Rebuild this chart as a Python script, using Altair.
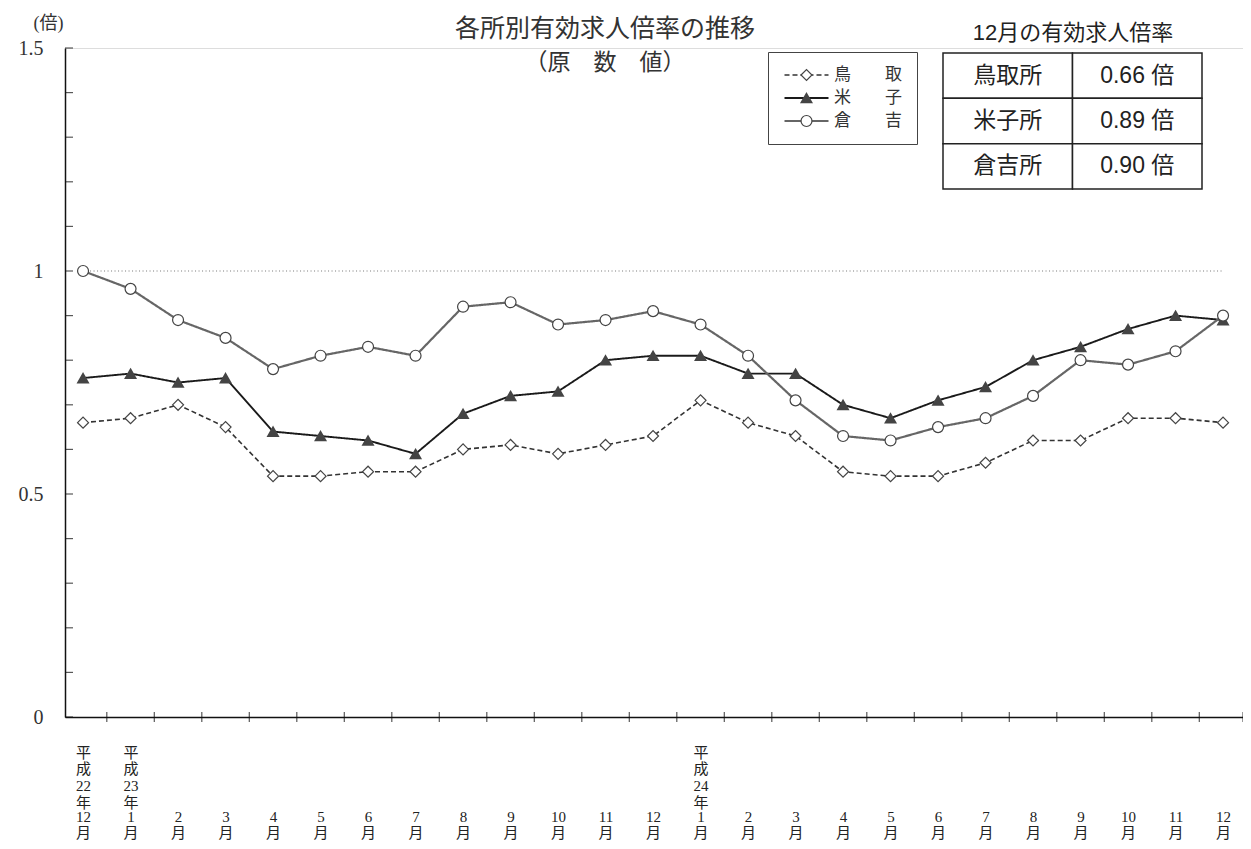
import json
import altair as alt
import pandas as pd

# ---------------- data ----------------
month_labels = ["12|月", "1|月", "2|月", "3|月", "4|月", "5|月", "6|月", "7|月", "8|月",
                "9|月", "10|月", "11|月", "12|月", "1|月", "2|月", "3|月", "4|月", "5|月",
                "6|月", "7|月", "8|月", "9|月", "10|月", "11|月", "12|月"]
era_labels = ["平|成|22|年", "平|成|23|年", "", "", "", "", "", "", "", "", "", "", "",
              "平|成|24|年", "", "", "", "", "", "", "", "", "", "", ""]
series_names = ["鳥取", "米子", "倉吉"]
tottori = [0.66, 0.67, 0.70, 0.65, 0.54, 0.54, 0.55, 0.55, 0.60, 0.61, 0.59, 0.61, 0.63,
           0.71, 0.66, 0.63, 0.55, 0.54, 0.54, 0.57, 0.62, 0.62, 0.67, 0.67, 0.66]
yonago = [0.76, 0.77, 0.75, 0.76, 0.64, 0.63, 0.62, 0.59, 0.68, 0.72, 0.73, 0.80, 0.81,
          0.81, 0.77, 0.77, 0.70, 0.67, 0.71, 0.74, 0.80, 0.83, 0.87, 0.90, 0.89]
kurayoshi = [1.00, 0.96, 0.89, 0.85, 0.78, 0.81, 0.83, 0.81, 0.92, 0.93, 0.88, 0.89, 0.91,
             0.88, 0.81, 0.71, 0.63, 0.62, 0.65, 0.67, 0.72, 0.80, 0.79, 0.82, 0.90]
table_stations = ["鳥取所", "米子所", "倉吉所"]
y_label_values = [0, 0.5, 1, 1.5]
y_minor_ticks = [0.0, 0.1, 0.2, 0.3, 0.4, 0.5, 0.6, 0.7, 0.8, 0.9, 1.0, 1.1, 1.2, 1.3, 1.4, 1.5]
reference_level = 1.0

# ---------------- layout / style ----------------
W, H = 1178, 669
XMIN, XMAX = -0.38, 24.42
SERIF = "Liberation Serif, Noto Sans CJK JP"
SANS = "Liberation Sans, Noto Sans CJK JP"
CJK = "Noto Sans CJK JP"
INK = "#222"

n = len(month_labels)
series_values = [tottori, yonago, kurayoshi]
rows = []
for name, vals in zip(series_names, series_values):
    for i, v in enumerate(vals):
        rows.append({"i": i, "value": name, "rate": v})
df = pd.DataFrame(rows)

month_expr = "split(" + json.dumps(month_labels, ensure_ascii=False) + "[datum.value], '|')"
era_expr = "split(" + json.dumps(era_labels, ensure_ascii=False) + "[datum.value], '|')"
era_positions = [i for i, e in enumerate(era_labels) if e]

# marker shape for 米子: a triangle drawn solid (outline + dense horizontal strokes)
tri = "M0,-0.866L1,0.866L-1,0.866Z"
yy = -0.70
while yy < 0.87:
    hw = (yy + 0.866) / 1.732
    tri += f"M{-hw:.3f},{yy:.3f}L{hw:.3f},{yy:.3f}"
    yy += 0.16
solid_triangle = tri

x_scale = alt.Scale(domain=[XMIN, XMAX], nice=False, zero=False)
y_scale = alt.Scale(domain=[0, 1.5], nice=False)

x_axis = alt.Axis(orient="bottom", values=list(range(n)), labelExpr=month_expr, ticks=False,
                  grid=False, domainColor="#111", domainWidth=1.5, labelBaseline="top",
                  labelPadding=92, labelLineHeight=16, labelFont=SERIF, labelFontSize=15,
                  labelColor=INK, labelOverlap=False, labelFlush=False, labelBound=False)
era_axis = alt.Axis(orient="bottom", values=era_positions, labelExpr=era_expr, ticks=False,
                    grid=False, domain=False, labelBaseline="top",
                    labelPadding=28, labelLineHeight=16.8, labelFont=SERIF, labelFontSize=15,
                    labelColor=INK, labelOverlap=False, labelFlush=False, labelBound=False)
y_axis = alt.Axis(values=y_label_values, labelExpr="'' + datum.value", ticks=False, grid=False,
                  domainColor="#111", domainWidth=1.5, labelFont=SERIF, labelFontSize=20,
                  labelPadding=22, labelColor="#333", labelFlush=False, labelOverlap=False,
                  labelBound=False,
                  title="(倍)", titleAngle=0, titleX=-17, titleY=-20, titleAlign="center",
                  titleBaseline="alphabetic", titleFont=SERIF, titleFontSize=18,
                  titleFontWeight="normal", titleColor="#333")


def X(field, axis=x_axis):
    return alt.X(f"{field}:Q", scale=x_scale, axis=axis, title=None)


def Y(field):
    return alt.Y(f"{field}:Q", scale=y_scale, axis=y_axis, title=None)


legend_label_expr = "substring(datum.label, 0, 1) + '　　' + substring(datum.label, 1)"
common_legend = dict(title=None, orient="none", legendX=703, legendY=4, direction="vertical",
                     padding=15, clipHeight=16, rowPadding=6, labelFont=SERIF,
                     labelFontSize=17, labelColor="#333")
line_legend = alt.Legend(strokeColor="#444", symbolType="stroke", symbolSize=1936,
                         labelOffset=4, labelExpr=legend_label_expr, **common_legend)
pt_legend = alt.Legend(symbolSize=120, symbolOffset=15, labelExpr="''",
                       symbolStrokeWidth=1.2, **common_legend)

ref_rule = alt.Chart(pd.DataFrame({"x": [0], "x2": [n - 1], "y": [reference_level]})).mark_rule(
    strokeDash=[1, 2.5], color="#777", strokeWidth=1
).encode(x=X("x"), x2="x2:Q", y=Y("y"))

lines = alt.Chart(df).mark_line().encode(
    x=X("i"), y=Y("rate"),
    color=alt.Color("value:N", scale=alt.Scale(domain=series_names, range=["#333", "#1a1a1a", "#666"]),
                    legend=line_legend),
    strokeDash=alt.StrokeDash("value:N", scale=alt.Scale(domain=series_names, range=[[5, 3], [1, 0], [1, 0]]),
                              legend=line_legend),
    strokeWidth=alt.StrokeWidth("value:N", scale=alt.Scale(domain=series_names, range=[1.6, 2.2, 1.1]),
                                legend=line_legend),
)

points = alt.Chart(df).mark_point(filled=True, fill="white", stroke="#444", size=120, opacity=1,
                                  strokeWidth=1.2).encode(
    x=X("i"), y=Y("rate"),
    shape=alt.Shape("value:N", sort=series_names,
                    scale=alt.Scale(range=["diamond", solid_triangle, "circle"]), legend=pt_legend),
)

yticks = alt.Chart(pd.DataFrame({"t": y_minor_ticks})).mark_tick(
    orient="horizontal", size=8, thickness=1.2, color="#111", xOffset=4
).encode(y=Y("t"), x=alt.value(0))

main = alt.layer(ref_rule, lines, points, yticks)

# x-axis crosses between the months, carrying the era (平成) label axis
x_tick_pos = [i + 0.5 for i in range(n - 1)] + [XMAX]
era_layer = alt.Chart(pd.DataFrame({"t": x_tick_pos})).mark_tick(
    orient="vertical", size=10, thickness=1.2, color="#111"
).encode(x=X("t", axis=era_axis), y=alt.value(H))

# ---- table: 12月の有効求人倍率 ----
trows = []
for st, vals in zip(table_stations, series_values):
    trows.append({"row": st, "col": "name", "txt": st})
    trows.append({"row": st, "col": "value", "txt": f"{vals[-1]:.2f} 倍"})
tdf = pd.DataFrame(trows)

tx = alt.X("col:N", scale=alt.Scale(domain=["name", "value"], range=[878, 1137],
                                    paddingInner=0, paddingOuter=0),
           axis=alt.Axis(orient="top", labels=False, ticks=False, domain=False, grid=False,
                         title="12月の有効求人倍率", titleFont=SANS, titleFontSize=22,
                         titleFontWeight="normal", titlePadding=4, titleColor=INK))
ty = alt.Y("row:N", scale=alt.Scale(domain=table_stations, range=[5, 141],
                                    paddingInner=0, paddingOuter=0), axis=None)

t_rect = alt.Chart(tdf).mark_rect(fill="white", stroke=INK, strokeWidth=1.5).encode(x=tx, y=ty)
t_text = alt.Chart(tdf).mark_text(font=SANS, fontSize=23, color=INK).encode(x=tx, y=ty, text="txt:N")
table = alt.layer(t_rect, t_text)

chart = alt.layer(main, era_layer, table).resolve_scale(x="independent", y="independent").properties(
    width=W, height=H,
    title=alt.TitleParams(text="各所別有効求人倍率の推移", subtitle="（原　数　値）",
                          anchor="middle", frame="group", dx=-49, offset=-61,
                          font=CJK, fontSize=25, fontWeight="normal", color="#333",
                          subtitleFont=CJK, subtitleFontSize=23, subtitleColor="#333",
                          subtitlePadding=10),
    padding={"left": 57, "top": 40, "right": 0, "bottom": 124},
    autosize=alt.AutoSizeParams(type="none"),
).configure_view(stroke=None).configure(background="white")

chart.save("out.html", embed_options={"renderer": "svg", "actions": False})
